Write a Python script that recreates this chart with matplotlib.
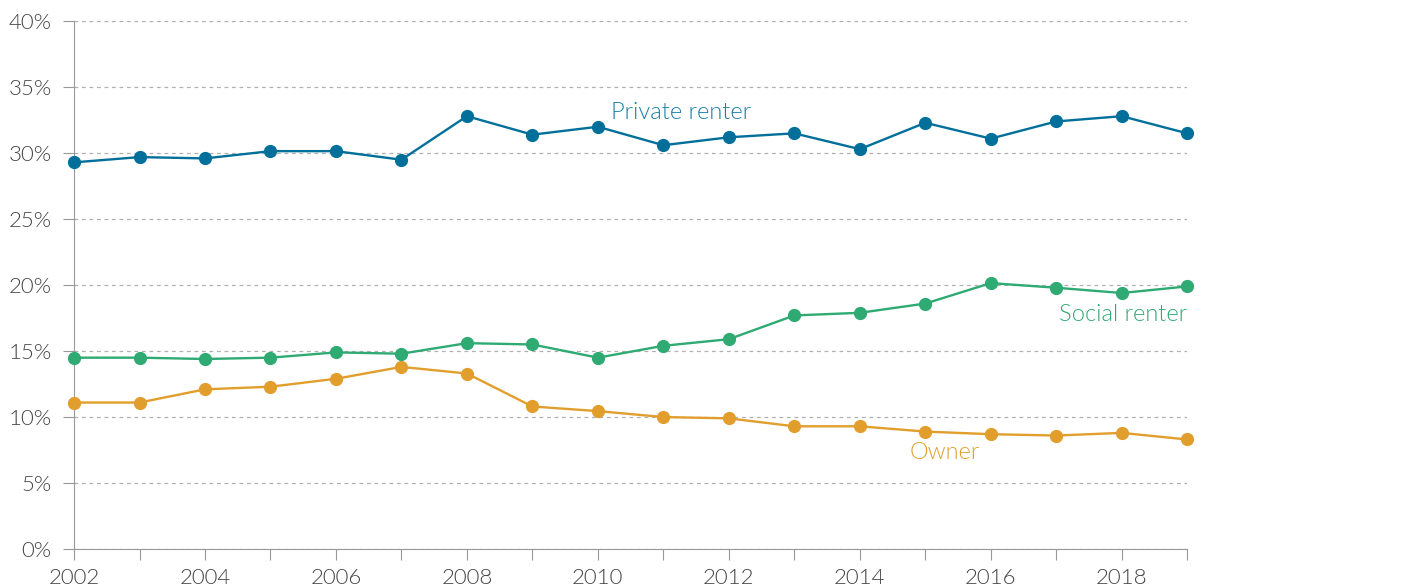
import matplotlib.pyplot as plt
from matplotlib.ticker import FuncFormatter

years = list(range(2002, 2020))
private_renter = [29.3, 29.7, 29.6, 30.15, 30.15, 29.5, 32.8, 31.4, 32.0, 30.6,
                  31.2, 31.5, 30.3, 32.3, 31.1, 32.4, 32.8, 31.5]
social_renter = [14.5, 14.5, 14.4, 14.5, 14.9, 14.8, 15.6, 15.5, 14.5, 15.4,
                 15.9, 17.7, 17.9, 18.6, 20.15, 19.8, 19.4, 19.9]
owner = [11.1, 11.1, 12.1, 12.3, 12.9, 13.8, 13.3, 10.8, 10.45, 10.0,
         9.9, 9.3, 9.3, 8.9, 8.7, 8.6, 8.8, 8.3]

blue = '#00709b'
green = '#2eaa72'
orange = '#e29e2c'
grey = '#444444'

plt.rcParams['font.family'] = ['Lato', 'DejaVu Sans']
plt.rcParams['font.weight'] = 300

fig = plt.figure(figsize=(14.13, 5.88), dpi=100)
ax = fig.add_axes([0.0524, 0.0663, 0.7878, 0.8977])

for vals, col in [(private_renter, blue), (social_renter, green), (owner, orange)]:
    ax.plot(years, vals, marker='o', color=col, lw=1.7, ms=8.5, clip_on=False, zorder=3)

ax.text(2010.2, 33.1, 'Private renter', color='#1a7ea6', fontsize=17, ha='left', va='center')
ax.text(2019, 17.75, 'Social renter', color=green, fontsize=17, ha='right', va='center')
ax.text(2015.3, 7.3, 'Owner', color=orange, fontsize=17, ha='center', va='center')

ax.set_xlim(2002, 2019)
ax.set_ylim(0, 40)
ax.set_yticks(range(0, 41, 5))
ax.yaxis.set_major_formatter(FuncFormatter(lambda v, p: f'{v:.0f}%'))
ax.set_xticks(years)
ax.set_xticklabels([str(y) if y % 2 == 0 else '' for y in years])

ax.grid(axis='y', linestyle=(0, (3, 3)), color='#b0b0b0', lw=0.9)
ax.set_axisbelow(True)
for s in ['top', 'right']:
    ax.spines[s].set_visible(False)
for s in ['left', 'bottom']:
    ax.spines[s].set_color('#999999')
ax.tick_params(axis='both', colors='#999999', labelcolor=grey, labelsize=16, length=8)
ax.tick_params(axis='y', pad=8)
ax.tick_params(axis='x', pad=6)

fig.savefig('out.png', dpi=100)
